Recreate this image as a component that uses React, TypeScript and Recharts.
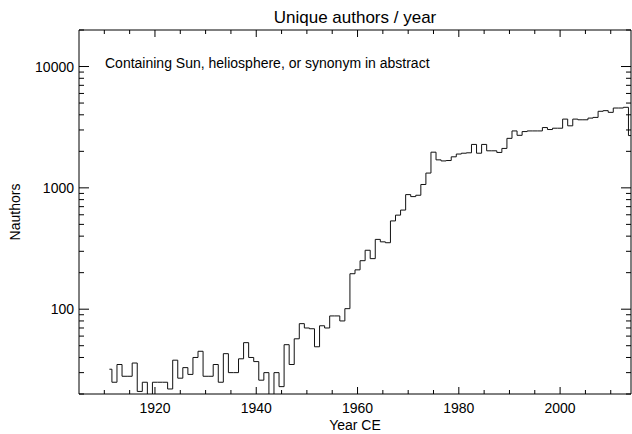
import React from 'react';
import { LineChart, Line, XAxis, YAxis } from 'recharts';

// yearly unique author counts, 1911-2014
const years = [
  1911, 1912, 1913, 1914, 1915, 1916, 1917, 1918, 1919,
  1920, 1921, 1922, 1923, 1924, 1925, 1926, 1927, 1928, 1929,
  1930, 1931, 1932, 1933, 1934, 1935, 1936, 1937, 1938, 1939,
  1940, 1941, 1942, 1943, 1944, 1945, 1946, 1947, 1948, 1949,
  1950, 1951, 1952, 1953, 1954, 1955, 1956, 1957, 1958, 1959,
  1960, 1961, 1962, 1963, 1964, 1965, 1966, 1967, 1968, 1969,
  1970, 1971, 1972, 1973, 1974, 1975, 1976, 1977, 1978, 1979,
  1980, 1981, 1982, 1983, 1984, 1985, 1986, 1987, 1988, 1989,
  1990, 1991, 1992, 1993, 1994, 1995, 1996, 1997, 1998, 1999,
  2000, 2001, 2002, 2003, 2004, 2005, 2006, 2007, 2008, 2009,
  2010, 2011, 2012, 2013, 2014,
];

const nAuthors = [
  32, 25, 35, 28, 28, 36, 21, 25, 15,
  25, 25, 25, 22, 38, 27, 33, 29, 40, 45,
  28, 28, 35, 25, 43, 30, 30, 39, 53, 40,
  37, 26, 30, 15, 30, 23, 51, 35, 57, 76,
  70, 69, 49, 73, 70, 88, 88, 80, 101, 196,
  211, 251, 306, 261, 376, 359, 353, 534, 596, 656,
  880, 847, 869, 1066, 1324, 1968, 1701, 1667, 1680, 1802,
  1900, 1930, 1945, 2280, 1930, 2280, 2020, 2020, 1958, 2113,
  2559, 2946, 2710, 2910, 2946, 2946, 2946, 3141, 3025, 3102,
  3102, 3687, 3246, 3687, 3639, 3639, 3758, 3807, 4276, 4328,
  4191, 4550, 4550, 4612, 2697,
];

const xTicks = [1910, 1915, 1920, 1925, 1930, 1935, 1940, 1945, 1950, 1955, 1960,
  1965, 1970, 1975, 1980, 1985, 1990, 1995, 2000, 2005, 2010];
const xLabels = [1920, 1940, 1960, 1980, 2000];

const yTicks = [20, 30, 40, 50, 60, 70, 80, 90, 100, 200, 300, 400, 500, 600, 700, 800, 900,
  1000, 2000, 3000, 4000, 5000, 6000, 7000, 8000, 9000, 10000, 20000];
const yLabels = [100, 1000, 10000];

const data = years.map((year, i) => ({ year, n: nAuthors[i] }));

const FONT = '"Liberation Sans", Arial, Helvetica, sans-serif';
const INK = '#000';

// recharts places the tick anchor tickSize + tickMargin away from the axis line
const TICK_SIZE = 10;
const TICK_MARGIN = 5;
const OFF = TICK_SIZE + TICK_MARGIN;

const XTick = (props: any) => {
  const { x, y, payload, side } = props;
  const major = xLabels.includes(payload.value);
  const len = major ? 7 : 4;
  const top = side === 'top';
  const ay = top ? y + OFF : y - OFF;
  const y2 = top ? ay + len : ay - len;
  return (
    <g>
      <path d={`M${x},${ay}L${x},${y2}`} stroke={INK} strokeWidth={1} fill="none" />
      {!top && major && (
        <text x={x} y={ay + 19} textAnchor="middle" fontSize={14} fontFamily={FONT} fill={INK}>
          {payload.value}
        </text>
      )}
    </g>
  );
};

const YTick = (props: any) => {
  const { x, y, payload, side } = props;
  const major = yLabels.includes(payload.value);
  const len = major ? 10 : 5;
  const right = side === 'right';
  const ax = right ? x - OFF : x + OFF;
  const x2 = right ? ax - len : ax + len;
  return (
    <g>
      <path d={`M${ax},${y}L${x2},${y}`} stroke={INK} strokeWidth={1} fill="none" />
      {!right && major && (
        <text x={ax - 5} y={y + 5} textAnchor="end" fontSize={14} fontFamily={FONT} fill={INK}>
          {payload.value}
        </text>
      )}
    </g>
  );
};

const App = () => {
  return (
    <div style={{ position: 'absolute', left: 0, top: 0, background: '#fff' }}>
      <LineChart width={632} height={434} data={data} margin={{ top: 29, right: 0, bottom: 0, left: 0 }}>
        <XAxis
          xAxisId={0}
          dataKey="year"
          type="number"
          domain={[1905, 2014]}
          ticks={xTicks}
          interval={0}
          height={40}
          tickSize={TICK_SIZE}
          tickMargin={TICK_MARGIN}
          tickLine={false}
          axisLine={{ stroke: INK }}
          tick={<XTick side="bottom" />}
          allowDataOverflow
        />
        <XAxis
          xAxisId="top"
          dataKey="year"
          orientation="top"
          type="number"
          domain={[1905, 2014]}
          ticks={xTicks}
          interval={0}
          height={1}
          tickSize={TICK_SIZE}
          tickMargin={TICK_MARGIN}
          tickLine={false}
          axisLine={{ stroke: INK }}
          tick={<XTick side="top" />}
          allowDataOverflow
        />
        <YAxis
          yAxisId={0}
          scale="log"
          type="number"
          domain={[20, 20000]}
          ticks={yTicks}
          interval={0}
          width={79}
          tickSize={TICK_SIZE}
          tickMargin={TICK_MARGIN}
          tickLine={false}
          axisLine={{ stroke: INK }}
          tick={<YTick side="left" />}
          allowDataOverflow
        />
        <YAxis
          yAxisId="right"
          orientation="right"
          scale="log"
          type="number"
          domain={[20, 20000]}
          ticks={yTicks}
          interval={0}
          width={1}
          tickSize={TICK_SIZE}
          tickMargin={TICK_MARGIN}
          tickLine={false}
          axisLine={{ stroke: INK }}
          tick={<YTick side="right" />}
          allowDataOverflow
        />
        <Line
          dataKey="n"
          type="step"
          stroke="#111"
          strokeWidth={1}
          dot={false}
          activeDot={false}
          isAnimationActive={false}
        />
        <Line
          xAxisId="top"
          yAxisId="right"
          dataKey="n"
          type="step"
          stroke="none"
          dot={false}
          activeDot={false}
          isAnimationActive={false}
        />
        <text x={355} y={23} textAnchor="middle" fontSize={17} fontFamily={FONT} fill={INK}>
          Unique authors / year
        </text>
        <text x={105} y={68} fontSize={14} fontFamily={FONT} fill={INK}>
          Containing Sun, heliosphere, or synonym in abstract
        </text>
        <text x={355} y={430} textAnchor="middle" fontSize={14} fontFamily={FONT} fill={INK}>
          Year CE
        </text>
        <text
          x={20}
          y={212}
          textAnchor="middle"
          fontSize={14}
          fontFamily={FONT}
          fill={INK}
          transform="rotate(-90 20 212)"
        >
          Nauthors
        </text>
      </LineChart>
    </div>
  );
};

export default App;
